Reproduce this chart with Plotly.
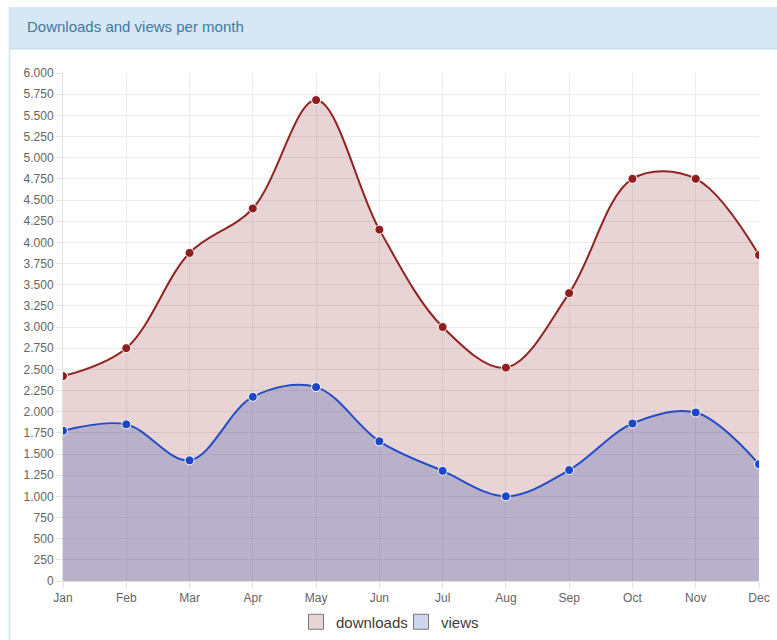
import plotly.graph_objects as go

months = ["Jan", "Feb", "Mar", "Apr", "May", "Jun", "Jul", "Aug", "Sep", "Oct", "Nov", "Dec"]
downloads = [2420, 2750, 3875, 4400, 5680, 4150, 3000, 2520, 3400, 4750, 4750, 3850]
views = [1775, 1850, 1425, 2175, 2290, 1650, 1300, 1000, 1310, 1860, 1990, 1380]
y_ticks = list(range(0, 6001, 250))

W, H = 777, 640
L, R, T, B = 63, 18, 73, 59
pw, ph = W - L - R, H - T - B

def px(x):
    return (x - L) / pw

def py(y):
    return (H - B - y) / ph

fig = go.Figure()

fig.add_trace(go.Scatter(
    x=months, y=downloads, name="downloads", mode="lines+markers",
    line=dict(color="rgb(145,35,35)", width=2, shape="spline", smoothing=1.0),
    marker=dict(size=9, color="rgb(145,30,30)", line=dict(color="white", width=1)),
    fill="tozeroy", fillcolor="rgba(140,40,40,0.2)", showlegend=False,
))
fig.add_trace(go.Scatter(
    x=months, y=views, name="views", mode="lines+markers",
    line=dict(color="rgb(35,75,200)", width=2, shape="spline", smoothing=1.0),
    marker=dict(size=9, color="rgb(30,70,200)", line=dict(color="white", width=1)),
    fill="tozeroy", fillcolor="rgba(76,96,180,0.3)", showlegend=False,
))
# legend swatches
fig.add_trace(go.Scatter(
    x=[None], y=[None], name="downloads", mode="markers", legend="legend",
    marker=dict(symbol="square", size=15, color="rgb(231,213,213)", line=dict(color="rgb(120,120,120)", width=1)),
))
fig.add_trace(go.Scatter(
    x=[None], y=[None], name="views", mode="markers", legend="legend2",
    marker=dict(symbol="square", size=15, color="rgb(206,214,240)", line=dict(color="rgb(120,120,120)", width=1)),
))

fig.add_shape(type="rect", xref="paper", yref="paper",
              x0=px(9), x1=px(778), y0=py(49), y1=py(7),
              fillcolor="rgb(214,232,244)", line=dict(width=0), layer="below")
fig.add_shape(type="line", xref="paper", yref="paper",
              x0=px(9), x1=px(778), y0=py(49), y1=py(49),
              line=dict(color="rgb(190,218,238)", width=1))
fig.add_shape(type="line", xref="paper", yref="paper",
              x0=px(9.5), x1=px(9.5), y0=py(7), y1=py(640),
              line=dict(color="rgb(205,228,242)", width=1.5))

fig.add_annotation(xref="paper", yref="paper", x=px(25), y=py(27),
                   xanchor="left", yanchor="middle", showarrow=False,
                   text="Downloads and views per month",
                   font=dict(size=15, color="rgb(66,120,162)", family="Liberation Sans, Arial, sans-serif"))

leg_common = dict(orientation="h", xanchor="left", yanchor="middle",
                  font=dict(size=15, color="rgb(60,60,60)"), itemwidth=30,
                  tracegroupgap=0, bgcolor="rgba(0,0,0,0)")

fig.update_layout(
    width=W, height=H, autosize=False,
    margin=dict(l=L, r=R, t=T, b=B, autoexpand=False),
    paper_bgcolor="white", plot_bgcolor="white",
    separators=",.",
    font=dict(family="Liberation Sans, Arial, sans-serif", size=12, color="rgb(100,100,100)"),
    legend=dict(x=px(296), y=py(622), **leg_common),
    legend2=dict(x=px(401), y=py(622), **leg_common),
    xaxis=dict(range=[0, 11], showgrid=True, gridcolor="rgb(236,236,236)",
               ticks="outside", ticklen=6, tickcolor="rgb(225,225,225)",
               showline=True, linecolor="rgb(225,225,225)", zeroline=False,
               automargin=False,
               tickfont=dict(size=12, color="rgb(100,100,100)")),
    yaxis=dict(range=[0, 6000], tickvals=y_ticks, tickformat=",d",
               showgrid=True, gridcolor="rgb(236,236,236)",
               ticks="outside", ticklen=6, tickcolor="rgb(225,225,225)",
               showline=True, linecolor="rgb(225,225,225)", zeroline=False,
               automargin=False,
               tickfont=dict(size=12, color="rgb(100,100,100)")),
)

fig.write_html("out.html", config={"displayModeBar": False},
               post_script="document.body.style.margin='0';document.body.style.padding='0';")
